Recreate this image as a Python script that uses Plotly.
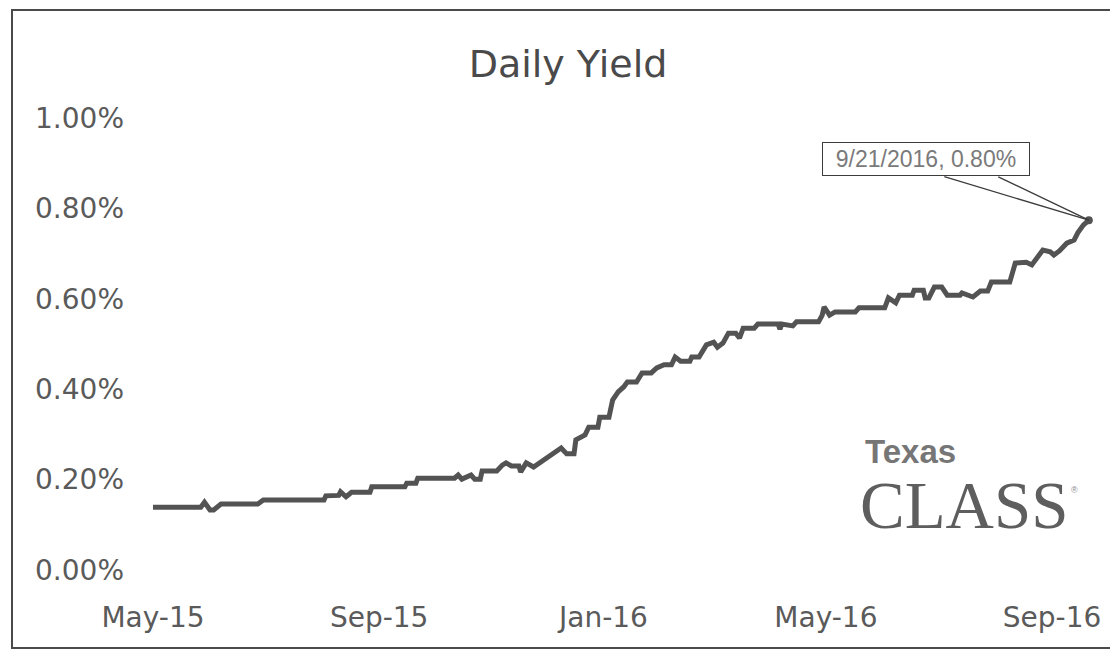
import plotly.graph_objects as go

# ---- data ----
dates = [
    "2015-05-01", "2015-05-27", "2015-05-29", "2015-06-01", "2015-06-03", "2015-06-07",
    "2015-06-27", "2015-06-30", "2015-08-02", "2015-08-03", "2015-08-10", "2015-08-11",
    "2015-08-14", "2015-08-17", "2015-08-27", "2015-08-28", "2015-09-15", "2015-09-16",
    "2015-09-21", "2015-09-22", "2015-10-12", "2015-10-14", "2015-10-16", "2015-10-21",
    "2015-10-23", "2015-10-26", "2015-10-27", "2015-11-04", "2015-11-07", "2015-11-09",
    "2015-11-12", "2015-11-16", "2015-11-17", "2015-11-20", "2015-11-24", "2015-11-30",
    "2015-12-04", "2015-12-09", "2015-12-12", "2015-12-16", "2015-12-17", "2015-12-22",
    "2015-12-24", "2015-12-29", "2015-12-30", "2016-01-04", "2016-01-06", "2016-01-09",
    "2016-01-12", "2016-01-14", "2016-01-19", "2016-01-22", "2016-01-27", "2016-01-30",
    "2016-02-03", "2016-02-07", "2016-02-09", "2016-02-12", "2016-02-17", "2016-02-18",
    "2016-02-22", "2016-02-26", "2016-03-01", "2016-03-03", "2016-03-06", "2016-03-09",
    "2016-03-13", "2016-03-15", "2016-03-17", "2016-03-23", "2016-03-25", "2016-04-05",
    "2016-04-06", "2016-04-07", "2016-04-13", "2016-04-15", "2016-04-27", "2016-04-29",
    "2016-04-30", "2016-05-03", "2016-05-06", "2016-05-17", "2016-05-19", "2016-06-02",
    "2016-06-04", "2016-06-08", "2016-06-10", "2016-06-17", "2016-06-18", "2016-06-23",
    "2016-06-24", "2016-06-26", "2016-06-29", "2016-07-03", "2016-07-06", "2016-07-13",
    "2016-07-14", "2016-07-20", "2016-07-24", "2016-07-28", "2016-07-30", "2016-08-09",
    "2016-08-12", "2016-08-18", "2016-08-21", "2016-08-24", "2016-08-27", "2016-08-31",
    "2016-09-02", "2016-09-05", "2016-09-09", "2016-09-13", "2016-09-15", "2016-09-18",
    "2016-09-20", "2016-09-21",
]
yield_pct = [
    0.139, 0.139, 0.150, 0.133, 0.133, 0.146,
    0.146, 0.155, 0.155, 0.164, 0.165, 0.173,
    0.162, 0.172, 0.172, 0.184, 0.184, 0.192,
    0.192, 0.203, 0.203, 0.210, 0.201, 0.210,
    0.201, 0.201, 0.219, 0.219, 0.232, 0.237,
    0.230, 0.230, 0.217, 0.237, 0.228, 0.245,
    0.259, 0.270, 0.257, 0.257, 0.288, 0.299,
    0.316, 0.316, 0.338, 0.338, 0.376, 0.394,
    0.405, 0.416, 0.416, 0.436, 0.436, 0.447,
    0.454, 0.454, 0.471, 0.462, 0.462, 0.471,
    0.471, 0.498, 0.504, 0.493, 0.502, 0.524,
    0.524, 0.513, 0.535, 0.535, 0.544, 0.544,
    0.533, 0.544, 0.540, 0.549, 0.549, 0.564,
    0.582, 0.564, 0.571, 0.571, 0.580, 0.580,
    0.602, 0.591, 0.608, 0.608, 0.619, 0.619,
    0.602, 0.602, 0.626, 0.626, 0.608, 0.608,
    0.613, 0.604, 0.617, 0.617, 0.637, 0.637,
    0.679, 0.681, 0.675, 0.690, 0.708, 0.704,
    0.697, 0.706, 0.723, 0.730, 0.746, 0.763,
    0.770, 0.774,
]
x_tick_vals = ["2015-05-01", "2015-09-01", "2016-01-01", "2016-05-01", "2016-09-01"]
x_tick_text = ["May-15", "Sep-15", "Jan-16", "May-16", "Sep-16"]
y_tick_vals = [0.0, 0.2, 0.4, 0.6, 0.8, 1.0]
y_tick_text = ["0.00%", "0.20%", "0.40%", "0.60%", "0.80%", "1.00%"]
callout_text = "9/21/2016, 0.80%"
title_text = "Daily Yield"

# ---- layout geometry (page has an 8px body margin) ----
OFF = 8
W, H = 1110, 648
L, R, T, B = 145, 20, 110, 86
PW, PH = W - L - R, H - T - B


def px_to_paper(px, py):
    """convert a position on the 1118x656 screenshot into paper coords"""
    return (px - OFF - L) / PW, (H - B - (py - OFF)) / PH


LINE_COLOR = "#535353"
TEXT_COLOR = "#5a5a5a"
FONT = "DejaVu Sans, Verdana, sans-serif"

fig = go.Figure()
fig.add_trace(go.Scatter(
    x=dates, y=yield_pct, mode="lines",
    line=dict(color=LINE_COLOR, width=5),
    hoverinfo="x+y", showlegend=False,
))
fig.add_trace(go.Scatter(
    x=[dates[-1]], y=[yield_pct[-1]], mode="markers",
    marker=dict(color=LINE_COLOR, size=8),
    showlegend=False, cliponaxis=False,
))

# callout box + two leader lines
fig.add_annotation(
    x=dates[-1], y=yield_pct[-1], xref="x", yref="y",
    text=callout_text, showarrow=True, arrowcolor="rgba(0,0,0,0)",
    ax=-163, ay=-61,
    font=dict(family="Liberation Sans, Arial, sans-serif", size=23, color="#7a7a7a"),
    bordercolor="#3c3c3c", borderwidth=1, bgcolor="white",
    width=204, height=30, borderpad=1,
)
for ax_off in (-146, -92):
    fig.add_annotation(
        x=dates[-1], y=yield_pct[-1], xref="x", yref="y",
        text=" ", showarrow=True, arrowhead=0, arrowwidth=1.3,
        arrowcolor="#3c3c3c", standoff=0, startstandoff=0,
        ax=ax_off, ay=-44, font=dict(size=1),
    )

# logo text
tx, ty = px_to_paper(910, 451)
fig.add_annotation(
    x=tx, y=ty, xref="paper", yref="paper", showarrow=False,
    text="<b>Texas</b>", xanchor="center", yanchor="middle",
    font=dict(family="Liberation Sans Narrow, Liberation Sans, Arial", size=33, color="#767676"),
)
cx, cy = px_to_paper(964, 505)
fig.add_annotation(
    x=cx, y=cy, xref="paper", yref="paper", showarrow=False,
    text="CLASS", xanchor="center", yanchor="middle",
    font=dict(family="Liberation Serif, Times New Roman, serif", size=67, color="#5e5e5e"),
)
rx, ry = px_to_paper(1074, 490)
fig.add_annotation(
    x=rx, y=ry, xref="paper", yref="paper", showarrow=False,
    text="®", xanchor="center", yanchor="middle",
    font=dict(family="Liberation Sans, Arial", size=9, color="#8a8a8a"),
)

# outer border
bx0, by0 = px_to_paper(12, 648)
bx1, by1 = px_to_paper(1140, 10)
fig.add_shape(type="rect", xref="paper", yref="paper",
              x0=bx0, y0=by0, x1=bx1, y1=by1,
              line=dict(color="#4a4a4a", width=2), fillcolor="rgba(0,0,0,0)",
              layer="below")

fig.update_layout(
    width=W, height=H,
    margin=dict(l=L, r=R, t=T, b=B, pad=0, autoexpand=False),
    paper_bgcolor="white", plot_bgcolor="white",
    title=dict(text=title_text, x=(568 - OFF) / W, xref="container", xanchor="center",
               y=1 - (64 - OFF) / H, yref="container", yanchor="middle",
               font=dict(family=FONT, size=38, color="#4a4a4a")),
    xaxis=dict(
        type="date", range=["2015-05-01", "2016-09-26"],
        tickvals=x_tick_vals, ticktext=x_tick_text,
        showgrid=False, zeroline=False, showline=False, ticks="",
        ticklabelstandoff=28, automargin=False,
        tickfont=dict(family=FONT, size=28, color=TEXT_COLOR),
    ),
    yaxis=dict(
        range=[0, 1.0], tickvals=y_tick_vals, ticktext=y_tick_text,
        showgrid=False, zeroline=False, showline=False, ticks="",
        ticklabelstandoff=28, automargin=False,
        tickfont=dict(family=FONT, size=28, color=TEXT_COLOR),
    ),
    showlegend=False,
)

fig.write_html("out.html")
